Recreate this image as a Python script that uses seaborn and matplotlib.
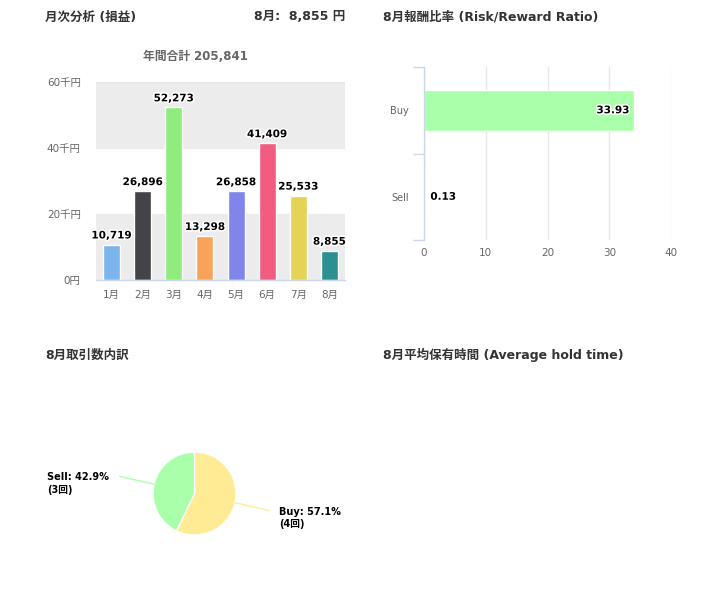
import numpy as np
import pandas as pd
import matplotlib.pyplot as plt
import matplotlib.patheffects as pe
import seaborn as sns

# ---- data -----------------------------------------------------------------
months = ["1月", "2月", "3月", "4月", "5月", "6月", "7月", "8月"]
monthly_pnl = [10719, 26896, 52273, 13298, 26858, 41409, 25533, 8855]
month_colors = ["#7cb5ec", "#434348", "#90ed7d", "#f7a35c",
                "#8085e9", "#f15c80", "#e4d354", "#2b908f"]
pnl_ticks = [0, 20000, 40000, 60000]
pnl_tick_labels = ["0円", "20千円", "40千円", "60千円"]

sides = ["Buy", "Sell"]
rr_ratio = [33.93, 0.13]
rr_ticks = [0, 10, 20, 30, 40]

trade_labels = ["Buy", "Sell"]
trade_counts = [4, 3]
trade_colors = ["#feeb94", "#aaffaa"]

total = sum(monthly_pnl)
last_month = months[-1]

sns.set_theme(style="white")
# Latin glyphs from DejaVu (wide, like the original), kana/kanji from Noto CJK
plt.rcParams["font.family"] = ["DejaVu Sans", "Noto Sans CJK JP"]

W, H = 722, 597
fig = plt.figure(figsize=(W / 100, H / 100), dpi=100)


def px_axes(left, top, right, bottom):
    return fig.add_axes([left / W, 1 - bottom / H, (right - left) / W, (bottom - top) / H])


TXT = "#333333"
TICK = "#666666"
AXIS = "#ccd6eb"
outline = [pe.withStroke(linewidth=2.2, foreground="white")]

# ---- headers ---------------------------------------------------------------
hdr = dict(fontsize=9, fontweight="bold", color=TXT, va="center")
fig.text(45 / W, 1 - 17 / H, "月次分析 (損益)", ha="left", **hdr)
fig.text(345 / W, 1 - 17 / H, f"{last_month}:  {monthly_pnl[-1]:,} 円", ha="right", **hdr)
fig.text(383 / W, 1 - 17 / H, "8月報酬比率 (Risk/Reward Ratio)", ha="left", **hdr)
fig.text(45 / W, 1 - 355 / H, "8月取引数内訳", ha="left", **hdr)
fig.text(383 / W, 1 - 355 / H, "8月平均保有時間 (Average hold time)", ha="left", **hdr)

# ---- monthly P&L column chart -------------------------------------------
ax1 = px_axes(96, 82, 345, 280)
df_pnl = pd.DataFrame({"month": months, "pnl": monthly_pnl})
ax1.axhspan(0, 20000, color="#ececec", zorder=0)
ax1.axhspan(40000, 60000, color="#ececec", zorder=0)
ax1.axhline(60000, color="#e6e6e6", lw=1, zorder=1)
sns.barplot(data=df_pnl, x="month", y="pnl", hue="month", palette=month_colors,
            legend=False, width=0.55, edgecolor="white", linewidth=1,
            saturation=1, ax=ax1, zorder=2)
ax1.set_ylim(0, 60000)
ax1.set_xlim(-0.5, len(months) - 0.5)
ax1.set_yticks(pnl_ticks)
ax1.set_yticklabels(pnl_tick_labels)
ax1.set_xlabel("")
ax1.set_ylabel("")
ax1.tick_params(axis="y", length=0, pad=11, labelsize=7.5, labelcolor=TICK)
ax1.tick_params(axis="x", length=0, pad=7.5, labelsize=7.5, labelcolor=TICK)
for s in ("top", "right", "left"):
    ax1.spines[s].set_visible(False)
ax1.spines["bottom"].set_color(AXIS)
ax1.spines["bottom"].set_linewidth(1)
for i, v in enumerate(monthly_pnl):
    ax1.annotate(f"{v:,}", xy=(i, v), xytext=(0, 3), textcoords="offset points",
                 ha="center", va="bottom", fontsize=7.5, fontweight="bold",
                 color="black", path_effects=outline, zorder=5)
fig.text(195 / W, 1 - 57 / H, f"年間合計 {total:,}", ha="center", va="center",
         fontsize=8.5, fontweight="bold", color=TICK)

# ---- risk / reward horizontal bars --------------------------------------
ax2 = px_axes(424, 67, 671, 240)
df_rr = pd.DataFrame({"side": sides, "ratio": rr_ratio})
sns.barplot(data=df_rr, x="ratio", y="side", orient="h", color="#aaffaa",
            saturation=1, width=0.47, ax=ax2, zorder=2)
ax2.set_xlim(0, 40)
ax2.set_ylim(len(sides) - 0.5, -0.5)
ax2.set_xticks(rr_ticks)
ax2.set_xlabel("")
ax2.set_ylabel("")
ax2.grid(axis="x", color="#e6e6e6", linewidth=1)
ax2.set_axisbelow(True)
ax2.set_yticks(np.arange(-0.5, len(sides)), minor=True)
ax2.tick_params(axis="y", which="minor", length=8, width=1, color=AXIS, left=True)
ax2.tick_params(axis="y", which="major", length=0, pad=11, labelsize=7, labelcolor=TICK)
ax2.tick_params(axis="x", length=0, pad=6, labelsize=7.5, labelcolor=TICK)
for s in ("top", "right", "bottom"):
    ax2.spines[s].set_visible(False)
ax2.spines["left"].set_color(AXIS)
ax2.spines["left"].set_linewidth(1)
for i, v in enumerate(rr_ratio):
    inside = v > 5
    ax2.annotate(f"{v:.2f}", xy=(v, i), xytext=(-3 if inside else 4, 0),
                 textcoords="offset points", ha="right" if inside else "left",
                 va="center", fontsize=7.5, fontweight="bold", color="black",
                 path_effects=outline, zorder=5)

# ---- trade count pie -----------------------------------------------------
r_px = 41.5
cx, cy = 194.5, 493.5
ax3 = px_axes(cx - r_px, cy - r_px, cx + r_px, cy + r_px)
wedges, _ = ax3.pie(trade_counts, colors=trade_colors, startangle=90,
                    counterclock=False, radius=1,
                    wedgeprops=dict(edgecolor="white", linewidth=1))
ax3.set_xlim(-1, 1)
ax3.set_ylim(-1, 1)
ax3.set_aspect("equal")
ax3.axis("off")
n_total = sum(trade_counts)
for w, lab, n, col in zip(wedges, trade_labels, trade_counts, trade_colors):
    ang = np.deg2rad((w.theta1 + w.theta2) / 2)
    x0, y0 = np.cos(ang), np.sin(ang)
    x1, y1 = 1.85 * x0, 1.85 * y0
    ax3.plot([x0, x1], [y0, y1], color=col, lw=1, clip_on=False)
    right = x0 > 0
    ax3.annotate(f"{lab}: {n / n_total * 100:.1f}%\n({n}回)", xy=(x1, y1),
                 xytext=(10 if right else -11, 4), textcoords="offset pixels",
                 ha="left" if right else "right", va="top", multialignment="left",
                 fontsize=7, fontweight="bold", color="black", linespacing=1.35,
                 annotation_clip=False)

fig.savefig("out.png", dpi=100)
